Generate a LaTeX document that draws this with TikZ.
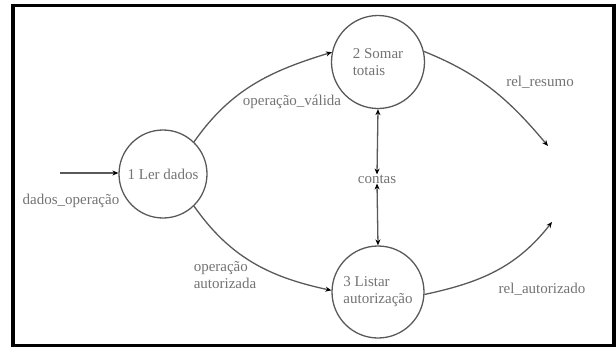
\documentclass[tikz,border=0pt]{standalone}
\usepackage{fontspec}
\setmainfont{Liberation Serif}
\usetikzlibrary{arrows.meta}
\begin{document}
\begin{tikzpicture}[x=1pt,y=-1pt,
  proc/.style={circle,draw=black!65,line width=1.3pt,minimum size=#1,inner sep=0pt,align=left,text=black!55,font=\fontsize{15}{15}\selectfont},
  lbl/.style={text=black!55,font=\fontsize{15}{15}\selectfont,inner sep=0pt,align=left},
  flow/.style={draw=black!65,line width=1.3pt,-{Stealth[length=6pt,width=5pt,black]}},
  biflow/.style={draw=black!65,line width=1.3pt,{Stealth[length=6pt,width=5pt,black]}-{Stealth[length=6pt,width=5pt,black]}}]
\useasboundingbox (0,0) rectangle (616,349);
\draw[line width=3.5pt] (13,5.5) rectangle (614,345.5);
% processes
\node[proc=88pt] (c1) at (163,174) {1 Ler dados};
\node[proc=93pt] (c2) at (378,62) {2 Somar\\[2pt]totais};
\node[proc=92pt] (c3) at (378,292) {3 Listar\\[2pt]autorização};
% store
\node[lbl] (st) at (377,179) {contas};
% free ends
\coordinate (in) at (60,173);
\coordinate (o1) at (548,146);
\coordinate (o2) at (552,222);
% flows
\draw[flow] (in) -- (c1.west |- in);
\draw[flow] (c1.46) to[out=55,in=197] (c2.168);
\draw[flow] (c1.-46) to[out=-55,in=168] (c3.178);
\draw[flow] (c2.13) to[out=-22,in=130] (o1);
\draw[flow] (c3.-3) to[out=12,in=232] (o2);
\draw[biflow] (c2.south) -- (st.north);
\draw[biflow] (st.south) -- (c3.north);
% labels
\node[lbl] (l1) at (71,201) {dados\_operação};
\node[lbl] (l2) at (292,102) {operação\_válida};
\node[lbl,align=left] (l3) at (225,275) {operação\\[2pt]autorizada};
\node[lbl] (l4) at (540,82) {rel\_resumo};
\node[lbl] (l5) at (542,289) {rel\_autorizado};
\end{tikzpicture}
\end{document}
